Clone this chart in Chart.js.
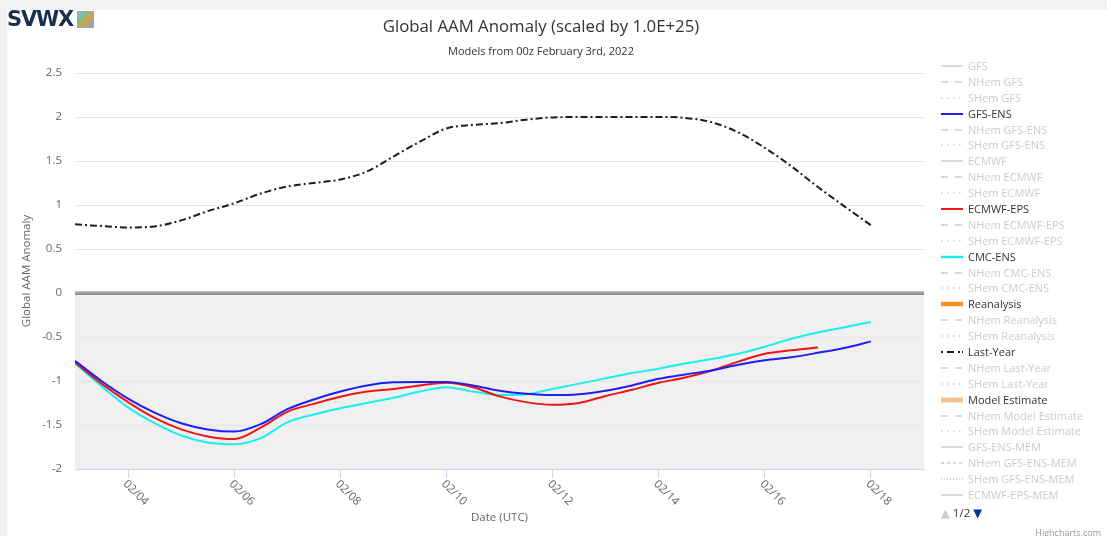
<!DOCTYPE html>
<html>
<head>
<meta charset="utf-8">
<title>Global AAM Anomaly</title>
<script src="https://cdn.jsdelivr.net/npm/chart.js@4.4.1/dist/chart.umd.min.js"></script>
<style>
    html, body { margin: 0; padding: 0; }
    body {
        width: 1107px; height: 536px; overflow: hidden; position: relative;
        background: #f2f2f2;
        font-family: 'Open Sans', 'DejaVu Sans', sans-serif;
    }
    #panel { position: absolute; left: 7px; top: 10px; width: 1100px; height: 526px; background: #fff; }
    #chart-wrap { position: absolute; left: 0; top: 0; width: 1100px; height: 526px; }
    .logo { position: absolute; left: 0; top: 0; height: 19px; }
    .logo .txt {
        position: absolute; left: 0; top: -3px;
        font: bold 21px 'DejaVu Sans', sans-serif; letter-spacing: -1.2px;
        color: #17314d;
    }
    .logo .icon {
        position: absolute; left: 70px; top: 1px; width: 17px; height: 17px;
        background: linear-gradient(135deg, #8fb8d8 0%, #7fc07a 40%, #e0a040 55%, #6fa8d0 100%);
        border: 1px solid #9ab;
        box-sizing: border-box;
    }
    #title {
        position: absolute; left: 0; width: 1068px; top: 6px;
        text-align: center; font-size: 16.8px; line-height: 20px; color: #333;
    }
    #subtitle {
        position: absolute; left: 0; width: 1068px; top: 34px;
        text-align: center; font-size: 11px; line-height: 14px; color: #333;
    }
    #legend { position: absolute; left: 934px; top: 48px; width: 166px; }
    #legend .item { position: absolute; left: 0; height: 16px; width: 166px; }
    #legend .item svg { position: absolute; left: 0; top: 0; }
    #legend .item span {
        position: absolute; left: 27px; top: 0; line-height: 16px;
        font-size: 11px; color: #333; white-space: nowrap;
    }
    #legend .item.off span { color: #cccccc; }
    #legend-nav { position: absolute; left: 934px; top: 495px; line-height: 16px; font-size: 11.5px; color: #333; }
    #legend-nav .up { color: #cccccc; }
    #legend-nav .down { color: #003399; }
    #credit { position: absolute; right: 6px; top: 516px; font-size: 9px; color: #999; }
</style>
</head>
<body>
<div id="panel">
    <div id="chart-wrap"><canvas id="chart-aam"></canvas></div>
    <div class="logo"><span class="txt">SVWX</span><span class="icon"></span></div>
    <div id="title">Global AAM Anomaly (scaled by 1.0E+25)</div>
    <div id="subtitle">Models from 00z February 3rd, 2022</div>
    <div id="legend"></div>
    <div id="legend-nav"><span class="up">▲</span> 1/2 <span class="down">▼</span></div>
    <div id="credit">Highcharts.com</div>
</div>

<script>
// ===================================================================
// DATA (day of February, 00z / 12z)
// ===================================================================
const days = [3, 3.5, 4, 4.5, 5, 5.5, 6, 6.5, 7, 7.5, 8, 8.5, 9, 9.5, 10, 10.5,
              11, 11.5, 12, 12.5, 13, 13.5, 14, 14.5, 15, 15.5, 16, 16.5, 17, 17.5, 18];

const gfsEns = [-0.77, -1.00, -1.20, -1.36, -1.48, -1.55, -1.575, -1.49, -1.32, -1.21, -1.12, -1.05,
                -1.015, -1.01, -1.01, -1.05, -1.11, -1.145, -1.16, -1.15, -1.11, -1.05, -0.975,
                -0.925, -0.88, -0.815, -0.765, -0.73, -0.68, -0.625, -0.55];

// ECMWF-EPS stops at 02/17
const ecmwfEps = [-0.79, -1.03, -1.24, -1.42, -1.55, -1.63, -1.66, -1.53, -1.35, -1.26, -1.18, -1.12,
                  -1.09, -1.05, -1.02, -1.07, -1.175, -1.24, -1.27, -1.25, -1.17, -1.10, -1.02,
                  -0.96, -0.88, -0.78, -0.69, -0.65, -0.62];

const cmcEns = [-0.80, -1.06, -1.30, -1.48, -1.62, -1.70, -1.72, -1.65, -1.47, -1.38, -1.31, -1.25,
                -1.19, -1.12, -1.07, -1.12, -1.16, -1.15, -1.09, -1.03, -0.97, -0.91, -0.86,
                -0.80, -0.75, -0.69, -0.61, -0.52, -0.45, -0.39, -0.33];

const lastYear = [0.78, 0.76, 0.745, 0.757, 0.825, 0.93, 1.02, 1.13, 1.21, 1.25, 1.29, 1.38,
                  1.55, 1.72, 1.87, 1.91, 1.93, 1.97, 1.995, 2.0, 2.0, 2.0, 2.0, 1.99, 1.94,
                  1.825, 1.65, 1.44, 1.205, 0.985, 0.77];

const xTicks = [4, 6, 8, 10, 12, 14, 16, 18];
const xTickLabels = ['02/04', '02/06', '02/08', '02/10', '02/12', '02/14', '02/16', '02/18'];
const yTicks = [-2, -1.5, -1, -0.5, 0, 0.5, 1, 1.5, 2, 2.5];

// all series of the legend (page 1 of 2)
const seriesNames = [
    'GFS', 'NHem GFS', 'SHem GFS',
    'GFS-ENS', 'NHem GFS-ENS', 'SHem GFS-ENS',
    'ECMWF', 'NHem ECMWF', 'SHem ECMWF',
    'ECMWF-EPS', 'NHem ECMWF-EPS', 'SHem ECMWF-EPS',
    'CMC-ENS', 'NHem CMC-ENS', 'SHem CMC-ENS',
    'Reanalysis', 'NHem Reanalysis', 'SHem Reanalysis',
    'Last-Year', 'NHem Last-Year', 'SHem Last-Year',
    'Model Estimate', 'NHem Model Estimate', 'SHem Model Estimate',
    'GFS-ENS-MEM', 'NHem GFS-ENS-MEM', 'SHem GFS-ENS-MEM',
    'ECMWF-EPS-MEM'
];
const visibleSeries = ['GFS-ENS', 'ECMWF-EPS', 'CMC-ENS', 'Reanalysis', 'Last-Year', 'Model Estimate'];

// ===================================================================
// STYLES
// ===================================================================
const OFF_COLOR = '#cccccc';
const seriesColors = {
    'GFS-ENS': '#1f1ff2',
    'ECMWF-EPS': '#f01414',
    'CMC-ENS': '#1aeeee',
    'Reanalysis': '#f7901e',
    'Last-Year': '#1e1e1e',
    'Model Estimate': '#f2c28e'
};
const legendWidths = { 'CMC-ENS': 2.5, 'Reanalysis': 4.5, 'Model Estimate': 5 };

document.addEventListener('DOMContentLoaded', () => {
    initChart();
});

/**
 * values of a series (empty for series that are switched off)
 */
function seriesPoints(name) {
    const lookup = {
        'GFS-ENS': gfsEns,
        'ECMWF-EPS': ecmwfEps,
        'CMC-ENS': cmcEns,
        'Last-Year': lastYear
    };
    const vals = lookup[name] || [];
    return vals.map((v, i) => ({ x: days[i], y: v }));
}

/**
 * dash pattern of a series, from its name
 */
function seriesDash(name) {
    if (name === 'Last-Year') return [7, 3, 2, 3];
    const mem = name.endsWith('-MEM');
    if (name.startsWith('NHem')) return mem ? [3, 3] : [7, 7];
    if (name.startsWith('SHem')) return mem ? [1, 2] : [1.5, 4.5];
    return [];
}

function buildDatasets() {
    return seriesNames.map(name => {
        const visible = visibleSeries.includes(name);
        return {
            label: name,
            data: seriesPoints(name),
            hidden: !visible,
            borderColor: visible ? seriesColors[name] : OFF_COLOR,
            borderWidth: 2,
            borderDash: seriesDash(name),
            pointRadius: 0,
            fill: false,
            cubicInterpolationMode: 'monotone'
        };
    });
}

// gray band below zero + double zero line
const bandPlugin = {
    id: 'zeroBand',
    beforeDraw(chart) {
        const { ctx, chartArea, scales } = chart;
        const y0 = scales.y.getPixelForValue(0);
        const yMin = scales.y.getPixelForValue(-2);
        ctx.save();
        ctx.fillStyle = '#f0f0f0';
        ctx.fillRect(chartArea.left, y0, chartArea.right - chartArea.left, yMin - y0);
        ctx.restore();
    },
    beforeDatasetsDraw(chart) {
        const { ctx, chartArea, scales } = chart;
        const y0 = Math.round(scales.y.getPixelForValue(0));
        ctx.save();
        ctx.fillStyle = '#8a8a8a';
        ctx.fillRect(chartArea.left, y0 - 1.5, chartArea.right - chartArea.left, 3.5);
        ctx.fillStyle = '#b4b4b4';
        ctx.fillRect(chartArea.left, y0 - 0.5, chartArea.right - chartArea.left, 1);
        ctx.restore();
    }
};

// slanted date labels (+45 deg, starting at the tick)
const xLabelPlugin = {
    id: 'slantedDates',
    afterDraw(chart) {
        const { ctx, chartArea, scales } = chart;
        ctx.save();
        ctx.fillStyle = '#666';
        ctx.font = "11.5px 'Open Sans', sans-serif";
        ctx.textAlign = 'left';
        ctx.textBaseline = 'top';
        xTicks.forEach((v, i) => {
            const px = scales.x.getPixelForValue(v);
            ctx.save();
            ctx.translate(px + 1, chartArea.bottom + 9);
            ctx.rotate(Math.PI / 4);
            ctx.fillText(xTickLabels[i], 0, 0);
            ctx.restore();
        });
        ctx.restore();
    }
};

function initChart() {
    Chart.defaults.font.family = "'Open Sans', 'DejaVu Sans', sans-serif";
    Chart.defaults.color = '#666';

    const canvas = document.getElementById('chart-aam');
    const chart = new Chart(canvas.getContext('2d'), {
        type: 'line',
        data: { datasets: buildDatasets() },
        options: {
            responsive: true,
            maintainAspectRatio: false,
            animation: false,
            layout: { padding: { top: 63, right: 183, bottom: 0, left: 0 } },
            plugins: {
                legend: { display: false },
                tooltip: { enabled: false },
                title: { display: false }
            },
            scales: {
                x: {
                    type: 'linear',
                    min: 3,
                    max: 19,
                    afterBuildTicks: axis => { axis.ticks = xTicks.map(v => ({ value: v })); },
                    afterFit: axis => { axis.height = 67; },
                    grid: { display: true, drawOnChartArea: false, drawTicks: true, tickLength: 9, color: '#ccd6eb' },
                    border: { display: true, color: '#ccd6eb' },
                    ticks: { display: false },
                    title: {
                        display: true, text: 'Date (UTC)', color: '#666',
                        font: { size: 11.5 }, padding: { top: 0, bottom: 11 }
                    }
                },
                y: {
                    min: -2,
                    max: 2.5,
                    afterBuildTicks: axis => { axis.ticks = yTicks.map(v => ({ value: v })); },
                    afterFit: axis => { axis.width = 68; },
                    grid: { color: '#e6e6e6', drawTicks: false },
                    border: { display: false },
                    ticks: { padding: 13, color: '#666', font: { size: 11.5 }, callback: v => String(v) },
                    title: {
                        display: true, text: 'Global AAM Anomaly', color: '#666',
                        font: { size: 11.5 }, padding: { top: 13, bottom: 0 }
                    }
                }
            }
        },
        plugins: [bandPlugin, xLabelPlugin]
    });

    buildLegend(chart);
}

/**
 * legend on the right, built from the chart's datasets
 */
function buildLegend(chart) {
    const box = document.getElementById('legend');
    chart.data.datasets.forEach((ds, i) => {
        const color = ds.hidden ? OFF_COLOR : seriesColors[ds.label];
        const width = ds.hidden ? 1.5 : (legendWidths[ds.label] || 2);
        let dash = ds.borderDash.join(',');
        if (ds.label === 'Last-Year') dash = '2,4,7,4,2';

        const item = document.createElement('div');
        item.className = 'item' + (ds.hidden ? ' off' : '');
        item.style.top = (i * 15.89) + 'px';
        item.innerHTML =
            `<svg width="22" height="16"><line x1="0" y1="8" x2="22" y2="8" stroke="${color}" ` +
            `stroke-width="${width}" stroke-dasharray="${dash || 'none'}"/></svg>` +
            `<span>${ds.label}</span>`;
        box.appendChild(item);
    });
}
</script>
</body>
</html>
